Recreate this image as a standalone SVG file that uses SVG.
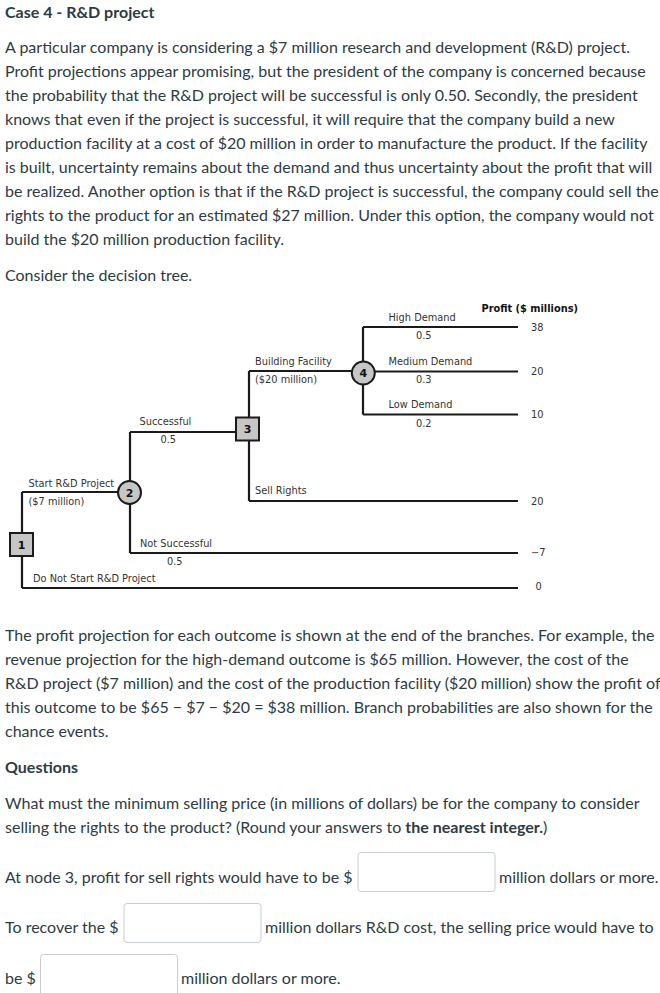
<svg xmlns="http://www.w3.org/2000/svg" width="660" height="993" viewBox="0 0 660 993">
<style>
.body{font-family:Lato,"Liberation Sans",sans-serif;font-size:16px;fill:#2d3b45}
.bold{font-weight:bold}
.t{font-family:"DejaVu Sans",Verdana,sans-serif;font-size:9.8px;fill:#333}
.num{font-family:"DejaVu Sans",Verdana,sans-serif;font-size:11px;font-weight:bold;fill:#111;text-anchor:middle}
.ln{fill:none;stroke:#1a1a1a;stroke-width:2.2}
.dec{fill:#c6c6c6;stroke:#1a1a1a;stroke-width:2}
.box{fill:#fff;stroke:#c7cdd1;stroke-width:1}
</style>
<rect width="660" height="993" fill="#fff"/>
<text class="body bold" x="5" y="18">Case 4 - R&amp;D project</text>
<g class="body">
<text x="5" y="53">A particular company is considering a $7 million research and development (R&amp;D) project.</text>
<text x="5" y="77">Profit projections appear promising, but the president of the company is concerned because</text>
<text x="5" y="101">the probability that the R&amp;D project will be successful is only 0.50. Secondly, the president</text>
<text x="5" y="125">knows that even if the project is successful, it will require that the company build a new</text>
<text x="5" y="149">production facility at a cost of $20 million in order to manufacture the product. If the facility</text>
<text x="5" y="173">is built, uncertainty remains about the demand and thus uncertainty about the profit that will</text>
<text x="5" y="197">be realized. Another option is that if the R&amp;D project is successful, the company could sell the</text>
<text x="5" y="221">rights to the product for an estimated $27 million. Under this option, the company would not</text>
<text x="5" y="245">build the $20 million production facility.</text>
<text x="5" y="281">Consider the decision tree.</text>
</g>
<g id="connectors">
<path class="ln" d="M22,492 V588 M22,492 H118 M130,432 V553 M130,432 H236 M249,371 V501 M249,371 H351 M363,327 V414.5"/>
<path class="ln" d="M363,327 H518 M375,371.5 H518 M363,414.5 H518 M249,501 H518 M130,553 H518 M22,588 H518"/>
</g>
<g id="node1"><rect class="dec" x="10" y="533" width="23" height="23"/><text class="num" x="21.5" y="548.5">1</text></g>
<g id="node2"><circle class="dec" cx="129.5" cy="492.5" r="11.5"/><text class="num" x="129.5" y="496.5">2</text></g>
<g id="node3"><rect class="dec" x="236" y="417.5" width="23" height="23"/><text class="num" x="247.5" y="433">3</text></g>
<g id="node4"><circle class="dec" cx="363.3" cy="373" r="11.5"/><text class="num" x="363.3" y="377">4</text></g>
<g class="t">
<text x="28.5" y="486.5">Start R&amp;D Project</text>
<text x="28.5" y="505">($7 million)</text>
<text x="139.5" y="425">Successful</text>
<text x="160.5" y="443">0.5</text>
<text x="140" y="546.5">Not Successful</text>
<text x="167" y="565">0.5</text>
<text x="33" y="581.5">Do Not Start R&amp;D Project</text>
<text x="255" y="365">Building Facility</text>
<text x="255" y="383">($20 million)</text>
<text x="255" y="493.5">Sell Rights</text>
<text x="388.5" y="321">High Demand</text>
<text x="416" y="339">0.5</text>
<text x="388.5" y="365">Medium Demand</text>
<text x="416" y="383">0.3</text>
<text x="388.5" y="408">Low Demand</text>
<text x="416" y="427">0.2</text>
<text x="481.5" y="311.5" style="font-weight:bold;fill:#111">Profit ($ millions)</text>
<text x="531" y="331">38</text>
<text x="531" y="375">20</text>
<text x="531" y="418">10</text>
<text x="531" y="505">20</text>
<text x="531" y="556">−7</text>
<text x="535.5" y="590">0</text>
</g>
<g class="body">
<text x="5" y="641">The profit projection for each outcome is shown at the end of the branches. For example, the</text>
<text x="5" y="665">revenue projection for the high-demand outcome is $65 million. However, the cost of the</text>
<text x="5" y="689">R&amp;D project ($7 million) and the cost of the production facility ($20 million) show the profit of</text>
<text x="5" y="713">this outcome to be $65 − $7 − $20 = $38 million. Branch probabilities are also shown for the</text>
<text x="5" y="737">chance events.</text>
<text class="bold" x="5" y="773">Questions</text>
<text x="5" y="809">What must the minimum selling price (in millions of dollars) be for the company to consider</text>
<text x="5" y="833">selling the rights to the product? (Round your answers to <tspan class="bold">the nearest integer.</tspan>)</text>
<text x="5" y="883">At node 3, profit for sell rights would have to be $</text>
<text x="499" y="883">million dollars or more.</text>
<text x="5" y="933">To recover the $</text>
<text x="265" y="933">million dollars R&amp;D cost, the selling price would have to</text>
<text x="5" y="984">be $</text>
<text x="181" y="984">million dollars or more.</text>
</g>
<rect class="box" x="358" y="852.5" width="137" height="39" rx="3"/>
<rect class="box" x="124" y="903.5" width="137" height="39" rx="3"/>
<rect class="box" x="40.5" y="954.5" width="137" height="45" rx="3"/>
</svg>
